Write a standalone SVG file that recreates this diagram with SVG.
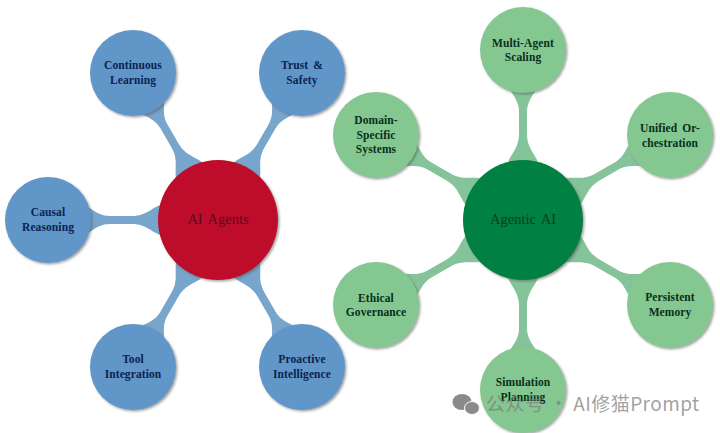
<svg xmlns="http://www.w3.org/2000/svg" width="720" height="433" viewBox="0 0 720 433">
<style>
text{font-family:"Liberation Serif","Times New Roman",serif;text-anchor:middle}
.lbl{font-size:11.5px;font-weight:bold;letter-spacing:.1px}
.b text{fill:#0b2350}.g text{fill:#07301a}
.b circle{fill:#6096c8}.g circle{fill:#85c791}
.ctr{font-size:14.5px;word-spacing:2px}
.cb{fill:#77a5cc}.cg{fill:#85c49b}
.wm{font-family:"Noto Sans CJK SC","Noto Sans",sans-serif;font-size:19px;fill:#7d7d7d;fill-opacity:.72;text-anchor:start;letter-spacing:.45px}
</style>
<defs>
<filter id="sh" x="-15%" y="-15%" width="135%" height="135%"><feDropShadow dx="1.5" dy="1.5" stdDeviation="1.2" flood-color="#555" flood-opacity=".55"/></filter>
<path id="link" d="M55,-16 C66,-13 71,-4 86,-4 L108,-4 C116,-4 121,-7 130,-13 L130,13 C121,7 116,4 108,4 L86,4 C71,4 66,13 55,16 Z"/>
</defs>
<rect width="720" height="433" fill="#fff"/>
<g id="connectors">
<g class="cb" transform="translate(218 220)">
<use href="#link" transform="rotate(240)"/><use href="#link" transform="rotate(300)"/><use href="#link" transform="rotate(180)"/><use href="#link" transform="rotate(120)"/><use href="#link" transform="rotate(60)"/>
</g>
<g class="cg" transform="translate(523 220)">
<use href="#link" transform="rotate(270)"/><use href="#link" transform="rotate(330)"/><use href="#link" transform="rotate(30)"/><use href="#link" transform="rotate(90)"/><use href="#link" transform="rotate(150)"/><use href="#link" transform="rotate(210)"/>
</g>
</g>
<g id="continuous" class="b"><circle cx="133" cy="73" r="43" filter="url(#sh)"/><text class="lbl" x="133" y="69">Continuous</text><text class="lbl" x="133" y="84">Learning</text></g>
<g id="trust" class="b"><circle cx="302" cy="73" r="43" filter="url(#sh)"/><text class="lbl" x="302" y="69" style="word-spacing:2px">Trust &amp;</text><text class="lbl" x="302" y="84">Safety</text></g>
<g id="causal" class="b"><circle cx="48" cy="220" r="43" filter="url(#sh)"/><text class="lbl" x="48" y="216">Causal</text><text class="lbl" x="48" y="231">Reasoning</text></g>
<g id="tool" class="b"><circle cx="133" cy="367" r="43" filter="url(#sh)"/><text class="lbl" x="133" y="363">Tool</text><text class="lbl" x="133" y="378">Integration</text></g>
<g id="proactive" class="b"><circle cx="302" cy="367" r="43" filter="url(#sh)"/><text class="lbl" x="302" y="363">Proactive</text><text class="lbl" x="302" y="378">Intelligence</text></g>
<g id="ai-agents"><circle cx="218" cy="220" r="60" fill="#bd0a2c" filter="url(#sh)"/><text class="ctr" x="218" y="224" fill="#5e0820">AI Agents</text></g>
<g id="multi-agent" class="g"><circle cx="523" cy="50" r="43" filter="url(#sh)"/><text class="lbl" x="523" y="47">Multi-Agent</text><text class="lbl" x="523" y="61">Scaling</text></g>
<g id="unified" class="g"><circle cx="670" cy="135" r="43" filter="url(#sh)"/><text class="lbl" x="670" y="132" style="word-spacing:2px">Unified Or-</text><text class="lbl" x="670" y="147">chestration</text></g>
<g id="persistent" class="g"><circle cx="670" cy="305" r="43" filter="url(#sh)"/><text class="lbl" x="670" y="301">Persistent</text><text class="lbl" x="670" y="316">Memory</text></g>
<g id="simulation" class="g"><circle cx="523" cy="390" r="43" filter="url(#sh)"/><text class="lbl" x="523" y="386">Simulation</text><text class="lbl" x="523" y="401">Planning</text></g>
<g id="ethical" class="g"><circle cx="376" cy="305" r="43" filter="url(#sh)"/><text class="lbl" x="376" y="302">Ethical</text><text class="lbl" x="376" y="316">Governance</text></g>
<g id="domain" class="g"><circle cx="376" cy="135" r="43" filter="url(#sh)"/><text class="lbl" x="376" y="124">Domain-</text><text class="lbl" x="376" y="139">Specific</text><text class="lbl" x="376" y="153">Systems</text></g>
<g id="agentic-ai"><circle cx="523" cy="220" r="60" fill="#008043" filter="url(#sh)"/><text class="ctr" x="523" y="224" fill="#0a3f24">Agentic AI</text></g>
<g id="watermark">
<ellipse cx="462" cy="402" rx="9.5" ry="8" fill="#8a8a8a"/>
<ellipse cx="472" cy="408" rx="7.5" ry="6.5" fill="#8a8a8a" stroke="#fff" stroke-width="1"/>
<text class="wm" x="486" y="411">公众号 · AI修猫Prompt</text>
</g>
</svg>
